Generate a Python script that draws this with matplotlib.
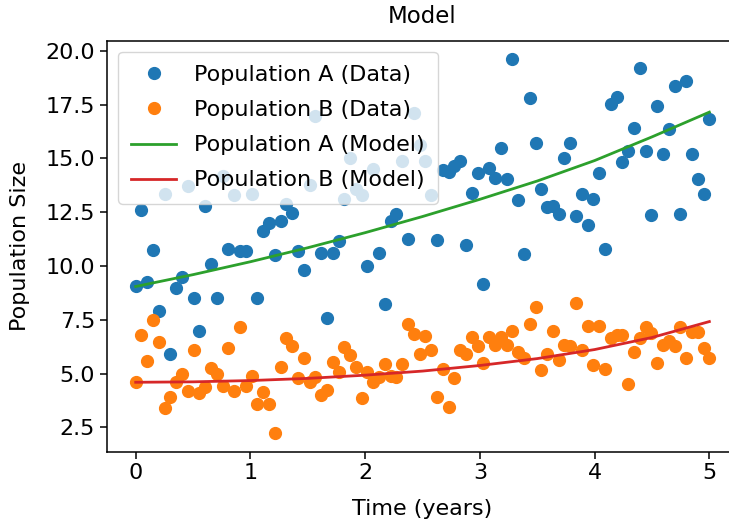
import numpy as np
import matplotlib
matplotlib.use("Agg")
import matplotlib.pyplot as plt

# sampling times (evenly spaced, 100 samples over 5 years)
time = np.linspace(0, 5, 100)

pop_a_data = [
    9.05, 12.6, 9.25, 10.75, 7.9, 13.35, 5.9, 9.0, 9.5, 13.7,
    8.5, 7.0, 12.8, 10.1, 8.5, 14.2, 10.8, 13.3, 10.7, 10.7,
    13.35, 8.5, 11.65, 12.0, 10.5, 12.1, 12.9, 12.45, 10.7, 9.8,
    13.75, 16.95, 10.6, 7.6, 10.6, 11.15, 13.1, 15.0, 13.6, 13.3,
    10.0, 14.5, 10.6, 8.25, 12.1, 12.4, 14.9, 11.25, 17.1, 15.6,
    14.87, 13.3, 11.2, 14.45, 14.35, 14.65, 14.87, 11.0, 13.4, 14.3,
    9.15, 14.55, 14.1, 15.5, 14.05, 19.6, 13.05, 10.55, 17.8, 15.7,
    13.6, 12.75, 12.8, 12.4, 15.0, 15.7, 12.33, 13.35, 11.9, 13.1,
    14.3, 10.8, 17.55, 17.85, 14.85, 15.35, 16.4, 19.2, 15.35, 12.35,
    17.45, 15.2, 16.35, 18.35, 12.4, 18.6, 15.2, 14.05, 13.35, 16.85,
]

pop_b_data = [
    4.6, 6.8, 5.6, 7.5, 6.45, 3.4, 3.9, 4.6, 5.0, 4.2,
    6.1, 4.1, 4.4, 5.25, 5.0, 4.45, 6.2, 4.2, 7.15, 4.45,
    4.9, 3.6, 4.15, 3.6, 2.25, 5.3, 6.65, 6.3, 4.8, 5.75,
    4.6, 4.85, 4.0, 4.25, 5.55, 5.07, 6.23, 5.85, 5.3, 3.85,
    5.07, 4.62, 4.84, 5.47, 4.88, 4.84, 5.47, 7.33, 6.85, 5.93,
    6.75, 6.08, 3.92, 5.2, 3.47, 4.78, 6.1, 5.93, 6.68, 6.3,
    5.48, 6.69, 6.31, 6.69, 6.31, 6.97, 6.0, 5.75, 7.32, 8.1,
    5.15, 5.9, 6.97, 5.65, 6.31, 6.3, 8.27, 6.08, 7.23, 5.38,
    7.23, 5.2, 6.65, 6.8, 6.8, 4.54, 6.0, 6.65, 7.17, 6.9,
    5.49, 6.31, 6.54, 6.28, 7.17, 5.74, 6.95, 6.95, 6.18, 5.73,
]

model_time = [0, 0.5, 1, 1.5, 2, 2.5, 3, 3.5, 4, 4.5, 5]
pop_a_model = [9.05, 9.6, 10.2, 10.85, 11.55, 12.3, 13.1, 13.95, 14.9, 16.0, 17.15]
pop_b_model = [4.6, 4.62, 4.68, 4.78, 4.93, 5.12, 5.38, 5.7, 6.12, 6.68, 7.42]

plt.rcParams['font.size'] = 16

fig = plt.figure(figsize=(7.29, 5.22), dpi=100)
ax = fig.add_axes([0.1468, 0.135, 0.8656, 0.787])

ax.plot(time, pop_a_data, 'o', color='tab:blue', markersize=8.5, label='Population A (Data)')
ax.plot(time, pop_b_data, 'o', color='tab:orange', markersize=8.5, label='Population B (Data)')
ax.plot(model_time, pop_a_model, '-', color='tab:green', linewidth=2.0, label='Population A (Model)')
ax.plot(model_time, pop_b_model, '-', color='tab:red', linewidth=2.0, label='Population B (Model)')

ax.set_xlabel('Time (years)', labelpad=11)
ax.set_ylabel('Population Size', labelpad=11)
ax.set_title('Model', fontsize=16.5, pad=12.5)
ax.set_yticks([2.5, 5.0, 7.5, 10.0, 12.5, 15.0, 17.5, 20.0])
ax.tick_params(length=5, width=1.1)
for s in ax.spines.values():
    s.set_linewidth(1.1)

ax.legend(loc='upper left', labelspacing=0.68, borderpad=0.6)

fig.savefig('out.png', dpi=100)
